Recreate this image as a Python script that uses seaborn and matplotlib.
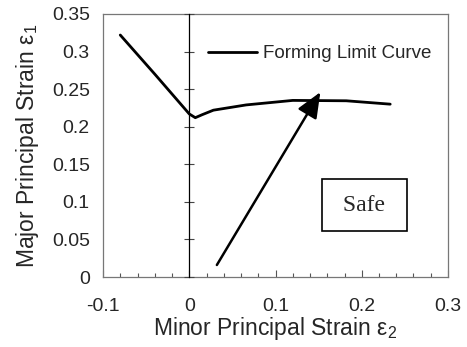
import matplotlib
matplotlib.use("Agg")
import matplotlib.pyplot as plt
from matplotlib.ticker import MultipleLocator
import seaborn as sns
import pandas as pd

# Forming limit curve data (minor strain e2, major strain e1)
flc_minor = [-0.080, -0.040, 0.000, 0.007, 0.015, 0.028, 0.066, 0.120, 0.182, 0.233]
flc_major = [0.322, 0.270, 0.217, 0.212, 0.216, 0.222, 0.229, 0.235, 0.2345, 0.230]

# Strain path arrow
arrow_start = (0.032, 0.016)
arrow_end = (0.152, 0.246)

x_ticks = [-0.1, 0.0, 0.1, 0.2, 0.3]
x_tick_labels = ["-0.1", "0", "0.1", "0.2", "0.3"]
y_ticks = [0.0, 0.05, 0.1, 0.15, 0.2, 0.25, 0.3, 0.35]
y_tick_labels = ["0", "0.05", "0.1", "0.15", "0.2", "0.25", "0.3", "0.35"]

sns.set_theme(style="white")
plt.rcParams["font.family"] = ["Liberation Sans", "DejaVu Sans"]
plt.rcParams["mathtext.fontset"] = "custom"
plt.rcParams["mathtext.rm"] = "Liberation Sans"
plt.rcParams["mathtext.it"] = "Liberation Sans"

df = pd.DataFrame({"minor": flc_minor, "major": flc_major})

fig = plt.figure(figsize=(4.67, 3.47), dpi=100)
ax = fig.add_axes([0.2206, 0.2017, 0.7387, 0.758])

sns.lineplot(data=df, x="minor", y="major", ax=ax, color="black", linewidth=2.0,
             label="Forming Limit Curve", sort=False)

# vertical axis line at x = 0 with crossing ticks
ax2 = ax.twinx()
ax2.set_ylim(0, 0.35)
ax2.set_yticks(y_ticks)
ax2.spines["right"].set_visible(False)
ax2.spines["top"].set_visible(False)
ax2.spines["bottom"].set_visible(False)
ax2.spines["left"].set_position(("data", 0))
ax2.spines["left"].set_color("black")
ax2.spines["left"].set_linewidth(0.9)
ax2.yaxis.set_ticks_position("left")
ax2.tick_params(axis="y", direction="inout", length=7, width=0.8, color="#444444",
                labelleft=False, labelright=False, right=False)

ax.set_xlim(-0.1, 0.3)
ax.set_ylim(0, 0.35)
ax.set_xticks(x_ticks)
ax.set_xticklabels(x_tick_labels, fontsize=14)
ax.set_yticks(y_ticks)
ax.set_yticklabels(y_tick_labels, fontsize=14)
ax.xaxis.set_minor_locator(MultipleLocator(0.02))
ax.tick_params(axis="x", which="major", direction="in", length=5, width=0.8,
               color="#555555", pad=15, bottom=True)
ax.tick_params(axis="x", which="minor", direction="in", length=3, width=0.8,
               color="#555555", bottom=True)
ax.tick_params(axis="y", which="both", left=False, right=False, pad=3.5)

for s in ax.spines.values():
    s.set_color("#777777")
    s.set_linewidth(0.9)

ax.set_xlabel("Minor Principal Strain ε$_2$", fontsize=16.5, labelpad=0)
ax.set_ylabel("Major Principal Strain ε$_1$", fontsize=16.5, labelpad=8)

# strain path arrow
ax.annotate("", xy=arrow_end, xytext=arrow_start,
            arrowprops=dict(arrowstyle="-|>,head_length=1.3,head_width=0.55",
                            color="black", lw=1.8, shrinkA=0, shrinkB=0))

ax.text(0.203, 0.0957, " Safe ", fontsize=17, family="Liberation Serif",
        ha="center", va="center",
        bbox=dict(boxstyle="square,pad=0.65", fc="white", ec="black", lw=1.2))

leg = ax.legend(loc="upper right", bbox_to_anchor=(1.0, 0.945), frameon=False,
                fontsize=13.5, handlelength=2.6, handletextpad=0.3)

fig.savefig("out.png", dpi=100)
